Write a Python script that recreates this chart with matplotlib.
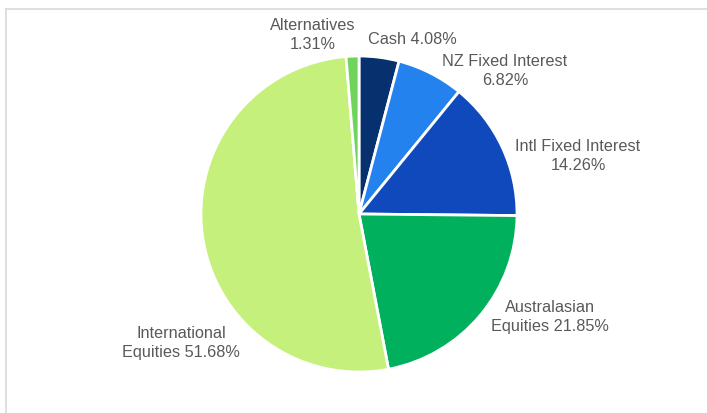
import matplotlib
matplotlib.use("Agg")
import matplotlib.pyplot as plt
from matplotlib.lines import Line2D

plt.rcParams['font.family'] = ['Liberation Sans', 'DejaVu Sans']

# Asset allocation, clockwise from 12 o'clock
names = ["Cash", "NZ Fixed Interest", "Intl Fixed Interest",
         "Australasian\nEquities", "International\nEquities", "Alternatives"]
shares = [4.08, 6.82, 14.26, 21.85, 51.68, 1.31]
colors = ["#06306e", "#2382ee", "#1049bb", "#00b05c", "#c6f07c", "#6fd45c"]

# label text layout and placement (data units, pie radius = 1)
label_fmt = ["{n} {v:.2f}%", "{n}\n{v:.2f}%", "{n}\n{v:.2f}%",
             "{n} {v:.2f}%", "{n} {v:.2f}%", "{n}\n{v:.2f}%"]
label_pos = [(0.335, 1.108), (0.924, 0.911), (1.386, 0.373),
             (1.209, -0.646), (-1.127, -0.810), (-0.291, 1.139)]

W, H = 707, 414
cx, cy, r = 359, 215, 158

fig = plt.figure(figsize=(W / 100, H / 100), dpi=100)
ax = fig.add_axes([0, 0, 1, 1])
ax.pie(shares, colors=colors, startangle=90, counterclock=False,
       radius=1, wedgeprops=dict(edgecolor="white", linewidth=2))
ax.set_xlim(-cx / r, (W - cx) / r)
ax.set_ylim((cy - H) / r, cy / r)
ax.set_aspect("auto")
ax.axis("off")

for n, v, fmt, (x, y) in zip(names, shares, label_fmt, label_pos):
    ax.text(x, y, fmt.format(n=n, v=v), ha="center", va="center",
            fontsize=11.7, color="#595959", linespacing=1.3)

# thin frame on the top and left edges
fig.add_artist(Line2D([6 / W, 1], [1 - 10 / H, 1 - 10 / H],
                      transform=fig.transFigure, color="#d9d9d9", lw=1.2))
fig.add_artist(Line2D([6 / W, 6 / W], [0, 1 - 10 / H],
                      transform=fig.transFigure, color="#d9d9d9", lw=1.2))

fig.savefig("out.png", dpi=100, facecolor="white")
